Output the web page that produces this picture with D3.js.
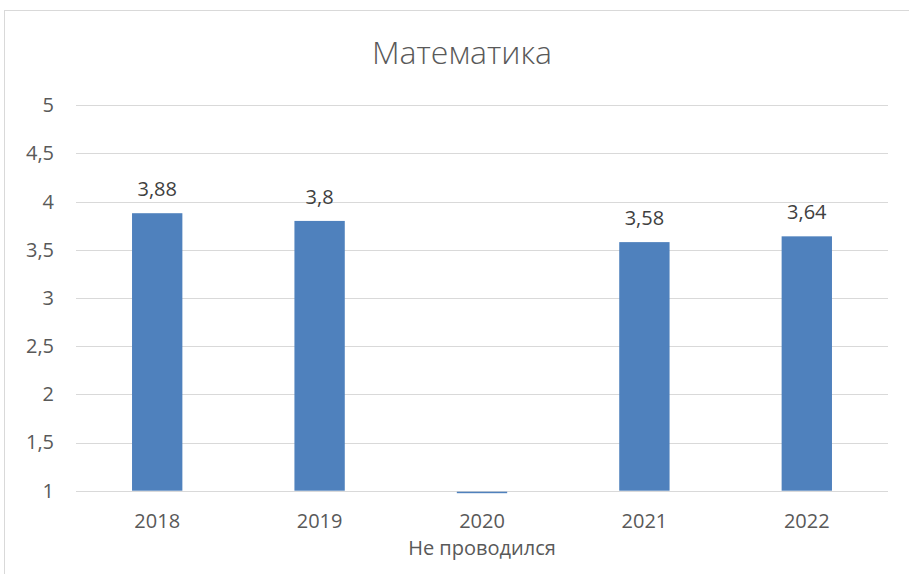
<!DOCTYPE html>
<html>
<head>
<meta charset="utf-8">
<script src="https://cdn.jsdelivr.net/npm/d3@7"></script>
<style>
  html, body { margin: 0; padding: 0; background: #fff; }
  svg { display: block; font-family: "Open Sans", "DejaVu Sans", sans-serif; }
</style>
</head>
<body>
<svg id="chart" width="909" height="574"></svg>
<script>
const title = "Математика";
const categories = ["2018", "2019", "2020", "2021", "2022"];
const values = [3.88, 3.8, 0, 3.58, 3.64];
const valueLabels = ["3,88", "3,8", "", "3,58", "3,64"];
const yTicks = [1, 1.5, 2, 2.5, 3, 3.5, 4, 4.5, 5];
const yTickLabels = ["1", "1,5", "2", "2,5", "3", "3,5", "4", "4,5", "5"];
const axisTitle = "Не проводился";

const svg = d3.select("#chart");
const plot = { left: 76, right: 888, top: 105.3, bottom: 490.7 };

// chart area border
svg.append("rect")
  .attr("x", 4.5).attr("y", 10.5)
  .attr("width", 920).attr("height", 700)
  .attr("fill", "#fff").attr("stroke", "#d9d9d9").attr("stroke-width", 1);

const x = d3.scaleBand().domain(categories)
  .range([plot.left, plot.right]).paddingInner(0.69).paddingOuter(0.345);
const y = d3.scaleLinear().domain([1, 5]).range([plot.bottom, plot.top]);

// gridlines
svg.append("g").selectAll("line").data(yTicks).join("line")
  .attr("x1", plot.left).attr("x2", plot.right)
  .attr("y1", d => Math.round(y(d)) + 0.5).attr("y2", d => Math.round(y(d)) + 0.5)
  .attr("stroke", "#d9d9d9").attr("stroke-width", 1);

// y tick labels
const yAxis = d3.axisLeft(y).tickValues(yTicks)
  .tickFormat((d, i) => yTickLabels[i]).tickSize(0).tickPadding(0);
const gy = svg.append("g").attr("transform", `translate(54,0)`).call(yAxis);
gy.select(".domain").remove();
gy.selectAll("text").attr("fill", "#595959").attr("font-size", 20)
  .attr("font-family", "Open Sans, sans-serif");

// bars
svg.append("g").selectAll("rect").data(values).join("rect")
  .attr("x", (d, i) => x(categories[i]))
  .attr("width", x.bandwidth())
  .attr("y", d => d >= 1 ? y(d) : y(1) + 1)
  .attr("height", d => d >= 1 ? y(1) - y(d) : 1.5)
  .attr("fill", "#4f81bd");

// value labels
svg.append("g").selectAll("text").data(values).join("text")
  .attr("x", (d, i) => x(categories[i]) + x.bandwidth() / 2)
  .attr("y", d => y(d) - 17)
  .attr("text-anchor", "middle")
  .attr("fill", "#404040").attr("font-size", 20)
  .text((d, i) => valueLabels[i]);

// x axis labels
const xAxis = d3.axisBottom(x).tickSize(0).tickPadding(0);
const gx = svg.append("g").attr("transform", `translate(0,${plot.bottom})`).call(xAxis);
gx.select(".domain").remove();
gx.selectAll("text").attr("fill", "#595959").attr("font-size", 20)
  .attr("font-family", "Open Sans, sans-serif")
  .attr("dy", null).attr("y", 37.6);

// axis title
svg.append("text")
  .attr("x", x("2020") + x.bandwidth() / 2).attr("y", 555)
  .attr("text-anchor", "middle").attr("fill", "#595959").attr("font-size", 20)
  .text(axisTitle);

// title
svg.append("text")
  .attr("x", 462).attr("y", 64)
  .attr("text-anchor", "middle").attr("fill", "#595959")
  .attr("font-size", 32).attr("font-weight", 300)
  .text(title);
</script>
</body>
</html>
